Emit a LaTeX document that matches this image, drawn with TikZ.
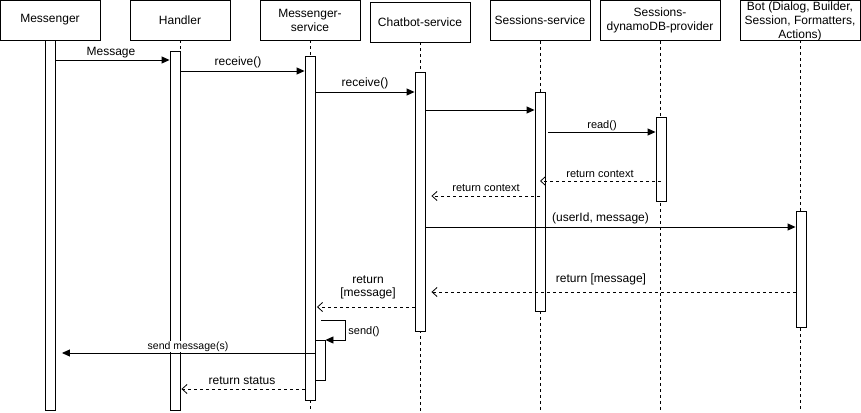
\documentclass[tikz,border=0pt]{standalone}
\usepackage{fontspec}
\setmainfont{Liberation Sans}
\usetikzlibrary{arrows.meta}
\begin{document}
\begin{tikzpicture}[x=1pt,y=-1pt,
  hdr/.style={draw, line width=0.9pt, fill=white, minimum width=100pt, minimum height=40pt, align=center, font=\fontsize{12}{14}\selectfont, inner sep=0pt},
  act/.style={draw, line width=0.9pt, fill=white, minimum width=10pt, inner sep=0pt, anchor=north},
  life/.style={dash pattern=on 3pt off 3pt, line width=0.9pt},
  msg/.style={-{Triangle[length=8pt,width=7pt]}, line width=0.9pt},
  ret/.style={-{Straight Barb[length=5pt,width=9pt]}, dash pattern=on 3pt off 3pt, line width=0.8pt},
  lbl/.style={font=\fontsize{12}{14}\selectfont, inner sep=0pt, anchor=base},
  slbl/.style={font=\fontsize{11}{13}\selectfont, inner sep=0pt, anchor=base}]
\path[use as bounding box] (0,0) rectangle (861,412);
% headers
\node[hdr] (hM) at (50,20) {Messenger};
\node[hdr] (hH) at (180,20) {Handler};
\node[hdr] (hMS) at (310,20) {Messenger-\\service};
\node[hdr] (hC) at (420,22) {Chatbot-service};
\node[hdr] (hS) at (540,20.5) {Sessions-service};
\node[hdr, minimum width=120pt] (hD) at (660,20.5) {Sessions-\\dynamoDB-provider};
\node[hdr, minimum width=120pt] (hB) at (800,20) {};
\node[font=\fontsize{12}{14}\selectfont, align=center, inner sep=0pt] (hBt) at (800,21.5) {Bot (Dialog, Builder,\\Session, Formatters,\\Actions)};
% lifelines
\foreach \n in {hM,hH,hMS,hC,hS,hD,hB}
  \draw[life] (\n.south) -- (\n.south |- 0,412);
% activations
\node[act, minimum height=370pt] (aM) at (50,40) {};
\node[act, minimum height=359pt] (aH) at (175,51) {};
\node[act, minimum height=344pt] (aMS) at (310,56) {};
\node[act, minimum height=259pt] (aC) at (420,72) {};
\node[act, minimum height=219pt] (aS) at (540,92) {};
\node[act, minimum height=84pt] (aD) at (661,117) {};
\node[act, minimum height=116pt] (aB) at (801,211) {};
\node[act, minimum height=40pt] (aMS2) at (320,340) {};
% messages
\draw[msg] (aM.east |- 0,60) -- (aH.west |- 0,60);
\node[lbl] (l1) at (111,56) {Message};
\draw[msg] (aH.east |- 0,71) -- (aMS.west |- 0,71);
\node[lbl] (l2) at (238,66) {receive()};
\draw[msg] (aMS.east |- 0,92) -- (aC.west |- 0,92);
\node[lbl] (l3) at (365,86) {receive()};
\draw[msg] (aC.east |- 0,110) -- (aS.west |- 0,110);
\draw[msg] ([xshift=3pt]aS.east |- 0,132) -- (aD.west |- 0,132);
\node[slbl] (l5) at (602,128) {read()};
\draw[ret] (aD |- 0,181) -- (aS |- 0,181);
\node[slbl] (l6) at (600,177) {return context};
\draw[ret] (aS |- 0,196) -- ([xshift=6pt]aC.east |- 0,196);
\node[slbl] (l7) at (486,191) {return context};
\draw[msg] (aC.east |- 0,227) -- (aB.west |- 0,227);
\node[lbl] (l8) at (600.5,221) {(userId, message)};
\draw[ret] (aB.west |- 0,292) -- ([xshift=6pt]aC.east |- 0,292);
\node[lbl] (l9) at (601,282) {return [message]};
\draw[ret] (aC.west |- 0,307) -- ([xshift=1.5pt]aMS.east |- 0,307);
\node[font=\fontsize{12}{13.5}\selectfont, align=center, inner sep=0pt] (l10) at (368,287.5) {return\\{}[message]};
\draw[msg] ([xshift=5.5pt]aMS.east |- 0,320) -- ++(24.5,0) |- (aMS2.east |- 0,340);
\node[slbl] (l11) at (364,334) {send()};
\draw[msg] (aMS2.west |- 0,353) -- ([xshift=6.5pt]aM.east |- 0,353);
\node[font=\fontsize{10.5}{12}\selectfont, inner sep=0.5pt, anchor=base, fill=white] (l12) at (188,349) {send message(s)};
\draw[ret] (aMS.west |- 0,389) -- ([xshift=1pt]aH.east |- 0,389);
\node[lbl] (l13) at (242,384.5) {return status};
\end{tikzpicture}
\end{document}
